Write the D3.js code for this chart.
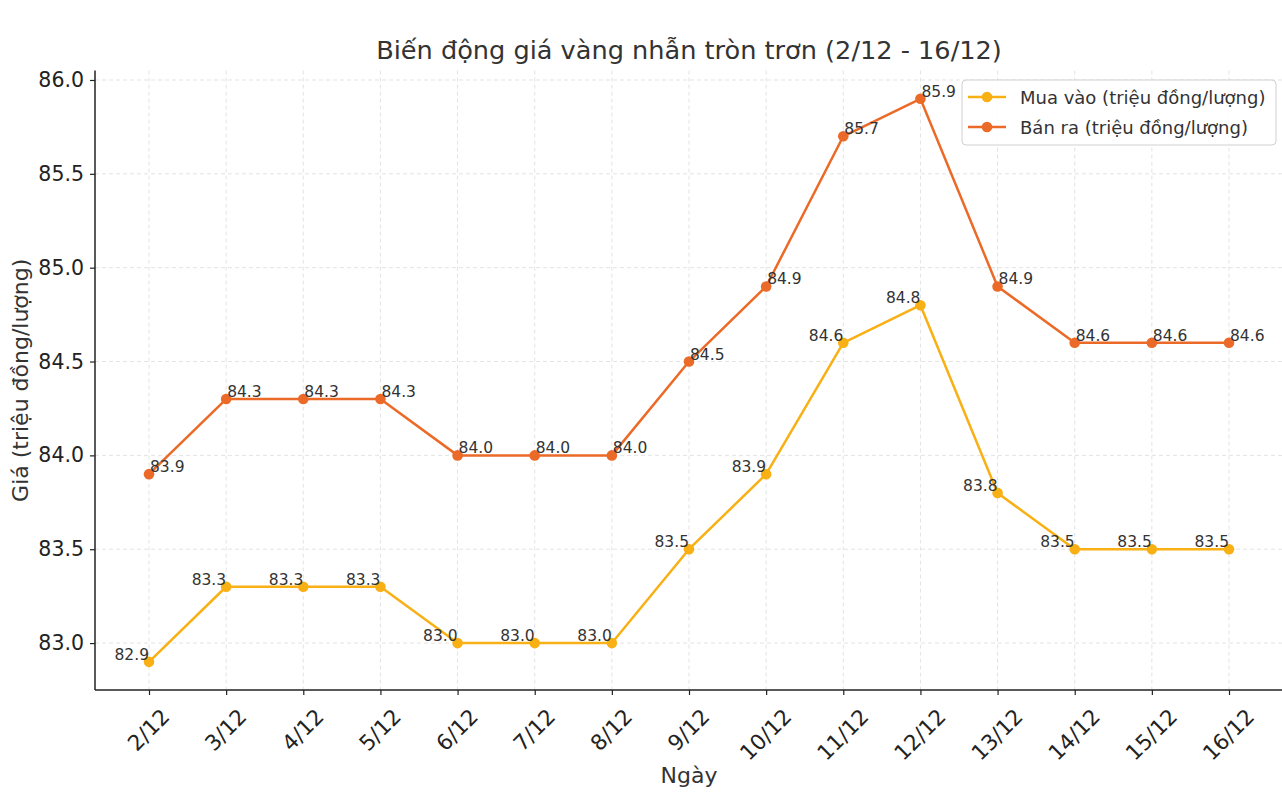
<!DOCTYPE html>
<html><head><meta charset="utf-8">
<script src="https://cdn.jsdelivr.net/npm/d3@7/dist/d3.min.js"></script>
<style>body{margin:0;background:#fff;} svg{display:block;font-family:"DejaVu Sans",sans-serif;}</style>
</head><body>
<svg id="chart" width="1282" height="792"></svg>
<script>
const dates = ["2/12","3/12","4/12","5/12","6/12","7/12","8/12","9/12","10/12","11/12","12/12","13/12","14/12","15/12","16/12"];
const buyValues = [82.9,83.3,83.3,83.3,83.0,83.0,83.0,83.5,83.9,84.6,84.8,83.8,83.5,83.5,83.5];
const sellValues = [83.9,84.3,84.3,84.3,84.0,84.0,84.0,84.5,84.9,85.7,85.9,84.9,84.6,84.6,84.6];
const yTicks = [83.0,83.5,84.0,84.5,85.0,85.5,86.0];
const seriesNames = ["Mua vào (triệu đồng/lượng)","Bán ra (triệu đồng/lượng)"];
const titleText = "Biến động giá vàng nhẫn tròn trơn (2/12 - 16/12)";
const xLabel = "Ngày";
const yLabel = "Giá (triệu đồng/lượng)";

const colors = ["#F8B015","#EC6A28"];
const svg = d3.select("#chart");
const L = 95, R = 1283, T = 70.6, B = 690;
const x = d3.scaleLinear().domain([-0.7, dates.length - 1 + 0.7]).range([L, R]);
const y = d3.scaleLinear().domain([82.75, 86.05]).range([B, T]);
const txt = "#333";

// grid
const g = svg.append("g");
g.selectAll(".hg").data(yTicks).join("line")
  .attr("x1", L).attr("x2", R).attr("y1", d => y(d)).attr("y2", d => y(d))
  .attr("stroke", "#e3e3e3").attr("stroke-width", 1).attr("stroke-dasharray", "4,3");
g.selectAll(".vg").data(dates).join("line")
  .attr("x1", (d,i) => x(i)).attr("x2", (d,i) => x(i)).attr("y1", T).attr("y2", B)
  .attr("stroke", "#e3e3e3").attr("stroke-width", 1).attr("stroke-dasharray", "4,3");

// axes
const yAxis = d3.axisLeft(y).tickValues(yTicks).tickFormat(d3.format(".1f")).tickSize(5).tickPadding(6);
const ya = svg.append("g").attr("transform", `translate(${L},0)`).call(yAxis);
ya.select(".domain").attr("d", `M0,${B}V${T}`).attr("stroke", "#222").attr("stroke-width", 1.5);
ya.selectAll(".tick line").attr("stroke", "#222").attr("stroke-width", 1.2);
ya.selectAll(".tick text").attr("font-size", 20.5).attr("fill", "#222").attr("font-family", "DejaVu Sans");

const xAxis = d3.axisBottom(x).tickValues(d3.range(dates.length)).tickFormat(i => dates[i]).tickSize(5);
const xa = svg.append("g").attr("transform", `translate(0,${B})`).call(xAxis);
xa.select(".domain").attr("d", `M${L},0H${R}`).attr("stroke", "#222").attr("stroke-width", 1.5);
xa.selectAll(".tick line").attr("stroke", "#222").attr("stroke-width", 1.2);
xa.selectAll(".tick text").attr("font-size", 21.5).attr("fill", "#222").attr("font-family", "DejaVu Sans")
  .attr("text-anchor", "middle").attr("dominant-baseline", "central").attr("dy", null)
  .each(function() {
    const w = this.getComputedTextLength();
    const h = 21.5 * 0.75;
    const H = (w + h) / Math.SQRT2;
    d3.select(this).attr("y", 0).attr("transform", `translate(-1,${17 + H/2}) rotate(-45)`);
  });

// lines
const line = d3.line().x((d,i) => x(i)).y(d => y(d));
[buyValues, sellValues].forEach((vals, k) => {
  svg.append("path").datum(vals).attr("d", line).attr("fill", "none")
    .attr("stroke", colors[k]).attr("stroke-width", 2.5).attr("stroke-linejoin", "round");
  svg.append("g").selectAll("circle").data(vals).join("circle")
    .attr("cx", (d,i) => x(i)).attr("cy", d => y(d)).attr("r", 5.3).attr("fill", colors[k]);
});

// data labels
svg.append("g").selectAll("text").data(buyValues).join("text")
  .attr("x", (d,i) => x(i)).attr("y", d => y(d) - 2)
  .attr("text-anchor", "end").attr("font-size", 15.5).attr("fill", txt)
  .text(d => d.toFixed(1));
svg.append("g").selectAll("text").data(sellValues).join("text")
  .attr("x", (d,i) => x(i) + 1).attr("y", d => y(d) - 2)
  .attr("text-anchor", "start").attr("font-size", 15.5).attr("fill", txt)
  .text(d => d.toFixed(1));

// title & axis labels
svg.append("text").attr("x", 689).attr("y", 59).attr("text-anchor", "middle")
  .attr("font-size", 25.6).attr("fill", txt).text(titleText);
svg.append("text").attr("x", 689).attr("y", 783).attr("text-anchor", "middle")
  .attr("font-size", 22).attr("fill", txt).text(xLabel);
svg.append("text").attr("transform", `translate(28,${(T + B) / 2}) rotate(-90)`).attr("text-anchor", "middle")
  .attr("font-size", 22).attr("fill", txt).text(yLabel);

// legend
const lg = svg.append("g").attr("transform", "translate(962,80)");
lg.append("rect").attr("width", 314).attr("height", 65).attr("rx", 4)
  .attr("fill", "#fff").attr("fill-opacity", 0.85).attr("stroke", "#d0d0d0");
seriesNames.forEach((n, k) => {
  const yy = 17 + k * 30;
  lg.append("line").attr("x1", 6).attr("x2", 44).attr("y1", yy).attr("y2", yy)
    .attr("stroke", colors[k]).attr("stroke-width", 2.5);
  lg.append("circle").attr("cx", 25).attr("cy", yy).attr("r", 5.3).attr("fill", colors[k]);
  lg.append("text").attr("x", 58).attr("y", yy).attr("dominant-baseline", "central")
    .attr("font-size", 18).attr("fill", txt).text(n);
});
</script>
</body></html>
